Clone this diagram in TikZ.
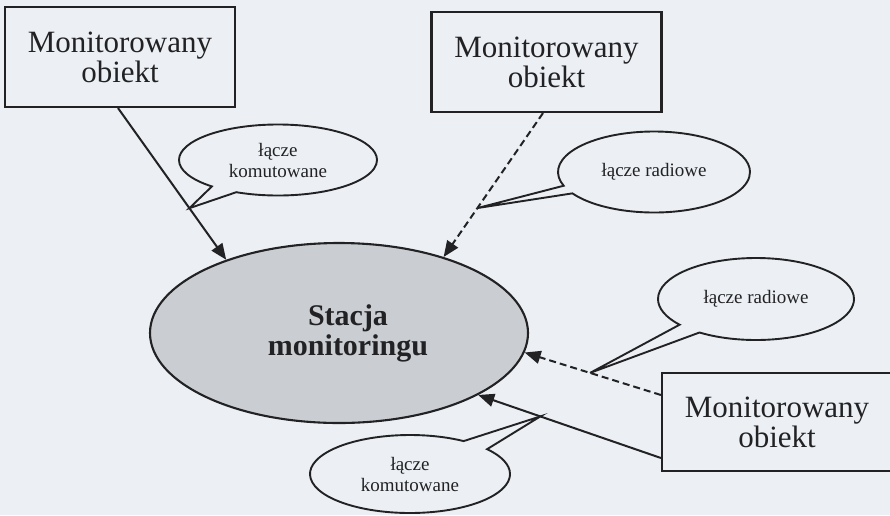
\documentclass[tikz,border=0pt]{standalone}
\usepackage{fontspec}
\setmainfont{Liberation Serif}
\usetikzlibrary{shapes.geometric,shapes.callouts,arrows.meta,calc}
\definecolor{bg}{RGB}{236,240,244}
\definecolor{ink}{RGB}{34,34,36}
\definecolor{stfill}{RGB}{202,205,209}
\begin{document}
\begin{tikzpicture}[x=1pt,y=-1pt,
  objbox/.style={draw=ink,line width=2.1pt,fill=bg,minimum width=230pt,minimum height=100pt,align=center,font=\fontsize{31}{30}\selectfont,text=ink,inner sep=0pt},
  station/.style={ellipse,draw=ink,line width=2.1pt,fill=stfill,minimum width=378pt,minimum height=180pt,align=center,font=\fontsize{30}{30}\selectfont\bfseries,text=ink,inner sep=0pt},
  bubble/.style={ellipse callout,draw=ink,line width=1.9pt,fill=bg,align=center,font=\fontsize{19}{21}\selectfont,text=ink,inner sep=0pt},
  wire/.style={draw=ink,line width=2pt,-{Triangle[length=16pt,width=13pt]}},
  radio/.style={wire,dash pattern=on 7pt off 4pt}]
\fill[bg] (0,0) rectangle (890,515);
\useasboundingbox (0,0) rectangle (890,515);

\node[station] (st) at (339,333) {\hspace*{18pt}Stacja\\\hspace*{18pt}monitoringu};
\node[objbox] (o1) at (120,57) {Monitorowany\\obiekt};
\node[objbox] (o2) at (546.5,62) {Monitorowany\\obiekt};
\node[objbox,minimum height=98pt] (o3) at (777,422) {Monitorowany\\obiekt};

\draw[wire] ([xshift=-2pt]o1.south) -- coordinate[pos=0.66] (p1) (st.147.5);
\draw[radio] ([xshift=-3.5pt]o2.south) -- coordinate[pos=0.66] (p2) (st.36.5);
\draw[radio] ([yshift=27pt]o3.west) -- coordinate[pos=0.52] (p3) (st.-6);
\draw[wire] ([yshift=-36pt]o3.west) -- coordinate[pos=0.66] (p4) (st.-24);

\node[bubble,minimum width=198pt,minimum height=71pt,callout absolute pointer={(p1)},callout pointer arc=17] (b1) at (278,160) {łącze\\komutowane};
\node[bubble,minimum width=192pt,minimum height=81pt,callout absolute pointer={(p2)},callout pointer arc=12] (b2) at (654,172) {łącze radiowe};
\node[bubble,minimum width=196pt,minimum height=82pt,callout absolute pointer={(p3)},callout pointer arc=16] (b3) at (756,299) {łącze radiowe};
\node[bubble,minimum width=200pt,minimum height=78pt,callout absolute pointer={(p4)},callout pointer arc=18] (b4) at (410,474) {łącze\\komutowane};
\end{tikzpicture}
\end{document}
